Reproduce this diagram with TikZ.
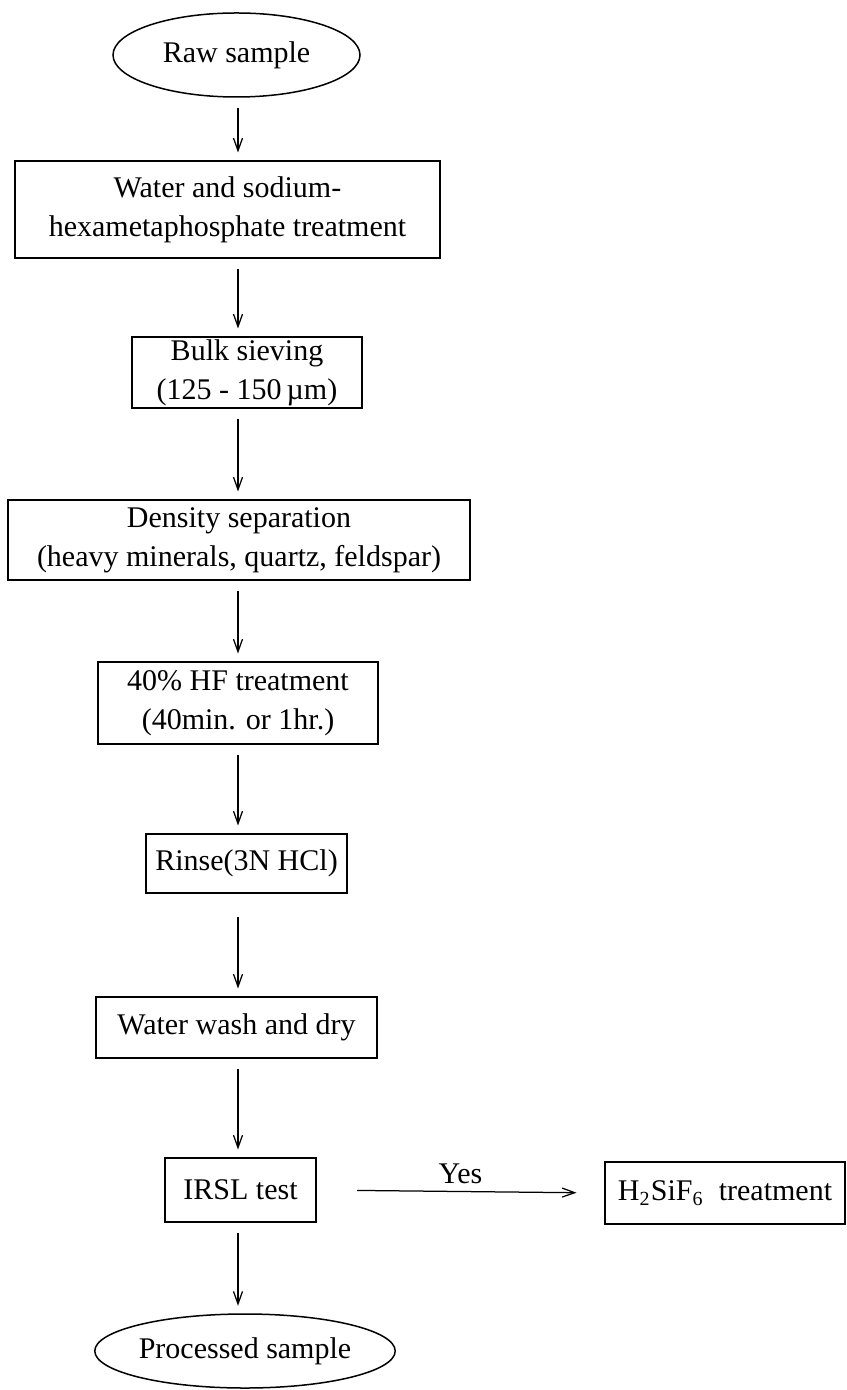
\documentclass[tikz,border=0pt]{standalone}
\usepackage{fontspec}
\setmainfont{Liberation Serif}
\usetikzlibrary{shapes.geometric,arrows.meta}

\tikzset{
    stage/.style={draw, rectangle, line width=0.8pt, inner sep=0pt, align=center},
    oval/.style={draw, ellipse, line width=0.6pt, inner sep=0pt},
    flow/.style={-{Straight Barb[length=5pt,width=3.6pt]}, line width=0.5pt, shorten <=4pt, shorten >=3pt},
}

\begin{document}
\begin{tikzpicture}[x=0.4pt, y=-0.4pt, font=\fontsize{12}{15.5}\selectfont]
    \useasboundingbox (0,0) rectangle (846,1390);
    \coordinate (col) at (238,0);

    \node[oval, minimum width=98.8pt, minimum height=33.6pt] (raw) at (236.5,55) {Raw sample};
    \node[stage, minimum width=170pt, minimum height=38.8pt] (treat) at (227.5,209.5) {Water and sodium-\\hexametaphosphate treatment};
    \node[stage, minimum width=92pt, minimum height=28.4pt] (sieve) at (247,372.5) {Bulk sieving\\(125 - 150\,µm)};
    \node[stage, minimum width=184.8pt, minimum height=32pt] (density) at (239,540) {Density separation\\(heavy minerals, quartz, feldspar)};
    \node[stage, minimum width=112pt, minimum height=32.8pt] (hf) at (238,703) {40\% HF treatment\\(40min. or 1hr.)};
    \node[stage, minimum width=80.4pt, minimum height=23.6pt] (rinse) at (246.5,863.5) {Rinse(3N HCl)};
    \node[stage, minimum width=112.4pt, minimum height=24.4pt] (dry) at (236.5,1027.5) {Water wash and dry};
    \node[stage, minimum width=60.4pt, minimum height=25.6pt] (irsl) at (240.5,1190) {IRSL test};
    \node[stage, minimum width=96pt, minimum height=24.8pt] (hsif) at (725,1193) {H\textsubscript{2}SiF\textsubscript{6}\ \ treatment};
    \node[oval, minimum width=120pt, minimum height=29.6pt] (done) at (245,1351) {Processed sample};

    % main column
    \draw[flow] (raw.south -| col) -- (treat.north -| col);
    \draw[flow] (treat.south -| col) -- (sieve.north -| col);
    \draw[flow] (sieve.south -| col) -- (density.north -| col);
    \draw[flow] (density.south -| col) -- (hf.north -| col);
    \draw[flow] (hf.south -| col) -- (rinse.north -| col);
    \draw[flow, shorten <=9pt] (rinse.south -| col) -- (dry.north -| col);
    \draw[flow] (dry.south -| col) -- (irsl.north -| col);
    \draw[flow] (irsl.south -| col) -- (done.north -| col);

    % side branch
    \draw[flow, shorten <=16pt, shorten >=11pt] (irsl.east) -- node[above, inner sep=3pt] {Yes} (hsif.west);
\end{tikzpicture}
\end{document}
